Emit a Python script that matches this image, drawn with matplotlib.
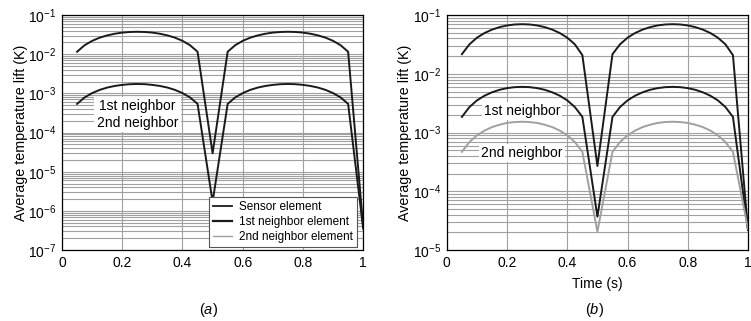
import matplotlib
matplotlib.use("Agg")
import matplotlib.pyplot as plt
from matplotlib.lines import Line2D

plt.rcParams['font.family'] = ['Liberation Sans', 'DejaVu Sans']
plt.rcParams['mathtext.fontset'] = 'custom'
plt.rcParams['mathtext.rm'] = 'Liberation Sans'
plt.rcParams['mathtext.it'] = 'Liberation Sans:italic'
plt.rcParams['mathtext.default'] = 'regular'
plt.rcParams['font.size'] = 9

# time samples: arc 0.05..0.45, dip at 0.5, arc 0.55..0.95, end at 1.0
arc_t = [0.05, 0.075, 0.1, 0.125, 0.15, 0.175, 0.2, 0.225, 0.25,
         0.275, 0.3, 0.325, 0.35, 0.375, 0.4, 0.425, 0.45]
time = arc_t + [0.5] + [t + 0.5 for t in arc_t] + [1.0]

# panel (a)
sensor_a_arc = [0.0116, 0.017, 0.022, 0.0265, 0.0303, 0.0334, 0.0357, 0.037, 0.0375,
                0.037, 0.0357, 0.0334, 0.0303, 0.0265, 0.022, 0.017, 0.0116]
first_a_arc = [5.4e-4, 7.9e-4, 1.02e-3, 1.23e-3, 1.41e-3, 1.55e-3, 1.65e-3, 1.72e-3, 1.74e-3,
               1.72e-3, 1.65e-3, 1.55e-3, 1.41e-3, 1.23e-3, 1.02e-3, 7.9e-4, 5.4e-4]
sensor_a = sensor_a_arc + [2.95e-5] + sensor_a_arc + [4.0e-7]
first_a = first_a_arc + [1.7e-6] + first_a_arc + [3.5e-7]

# panel (b)
sensor_b_arc = [0.0216, 0.0318, 0.0412, 0.0495, 0.0566, 0.0624, 0.0666, 0.0692, 0.070,
                0.0692, 0.0666, 0.0624, 0.0566, 0.0495, 0.0412, 0.0318, 0.0208]
first_b_arc = [1.85e-3, 2.72e-3, 3.53e-3, 4.24e-3, 4.85e-3, 5.35e-3, 5.71e-3, 5.93e-3, 6.0e-3,
               5.93e-3, 5.71e-3, 5.35e-3, 4.85e-3, 4.24e-3, 3.53e-3, 2.72e-3, 1.85e-3]
second_b_arc = [4.7e-4, 6.9e-4, 9.0e-4, 1.08e-3, 1.24e-3, 1.36e-3, 1.46e-3, 1.51e-3, 1.53e-3,
                1.51e-3, 1.46e-3, 1.36e-3, 1.24e-3, 1.08e-3, 9.0e-4, 6.9e-4, 4.7e-4]
sensor_b = sensor_b_arc + [2.7e-4] + sensor_b_arc + [2.2e-5]
first_b = first_b_arc + [3.7e-5] + first_b_arc + [2.2e-5]
second_b = second_b_arc + [2.05e-5] + second_b_arc + [2.3e-5]

xticks = [0, 0.2, 0.4, 0.6, 0.8, 1]
xticklabels = ['0', '0.2', '0.4', '0.6', '0.8', '1']

fig = plt.figure(figsize=(7.51, 3.21), dpi=100)
ax_a = fig.add_axes([0.0826, 0.221, 0.401, 0.732])
ax_b = fig.add_axes([0.595, 0.221, 0.401, 0.732])

grid_col = '#a0a0a0'
for ax in (ax_a, ax_b):
    ax.set_yscale('log')
    ax.set_xlim(0, 1)
    ax.set_xticks(xticks)
    ax.set_xticklabels(xticklabels)
    ax.grid(True, which='major', color=grid_col, linewidth=0.8)
    ax.grid(True, which='minor', axis='y', color=grid_col, linewidth=0.8)
    ax.tick_params(which='both', length=0, labelsize=10, pad=4)
    for s in ax.spines.values():
        s.set_linewidth(0.9)

ax_a.set_ylabel('Average temperature lift (K)', fontsize=10.3, labelpad=0)
ax_b.set_ylabel('Average temperature lift (K)', fontsize=10.3, labelpad=1)

# panel (a)
ax_a.set_ylim(1e-7, 1e-1)
ax_a.plot(time, sensor_a, color='#1a1a1a', lw=1.4)
ax_a.plot(time, first_a, color='#1a1a1a', lw=1.4)
ax_a.text(0.25, 2.9e-4, '1st neighbor\n2nd neighbor', ha='center', va='center',
          fontsize=10, linespacing=1.2,
          bbox=dict(facecolor='white', edgecolor='none', pad=2))
handles = [Line2D([], [], color='#1a1a1a', lw=1.3),
           Line2D([], [], color='#1a1a1a', lw=1.6),
           Line2D([], [], color='#a0a0a0', lw=1.0)]
leg = ax_a.legend(handles, ['Sensor element', '1st neighbor element', '2nd neighbor element'],
                  loc='lower right', bbox_to_anchor=(0.98, 0.013), fontsize=8.5,
                  fancybox=False, framealpha=1, edgecolor='#555555',
                  handlelength=1.6, handletextpad=0.6, labelspacing=0.25,
                  borderpad=0.35, borderaxespad=0)
leg.get_frame().set_linewidth(0.8)
fig.text(0.277, 0.035, r'($\mathit{a}$)', ha='center', va='center', fontsize=10.5)

# panel (b)
ax_b.set_ylim(1e-5, 1e-1)
ax_b.plot(time, sensor_b, color='#1a1a1a', lw=1.4)
ax_b.plot(time, first_b, color='#1a1a1a', lw=1.4)
ax_b.plot(time, second_b, color='#a0a0a0', lw=1.4)
ax_b.text(0.25, 2.3e-3, '1st neighbor', ha='center', va='center', fontsize=10,
          bbox=dict(facecolor='white', edgecolor='none', pad=1.5))
ax_b.text(0.25, 4.5e-4, '2nd neighbor', ha='center', va='center', fontsize=10,
          bbox=dict(facecolor='white', edgecolor='none', pad=1.5))
ax_b.set_xlabel('Time (s)', fontsize=10, labelpad=5)
fig.text(0.792, 0.035, r'($\mathit{b}$)', ha='center', va='center', fontsize=10.5)

fig.savefig('out.png', dpi=100)
